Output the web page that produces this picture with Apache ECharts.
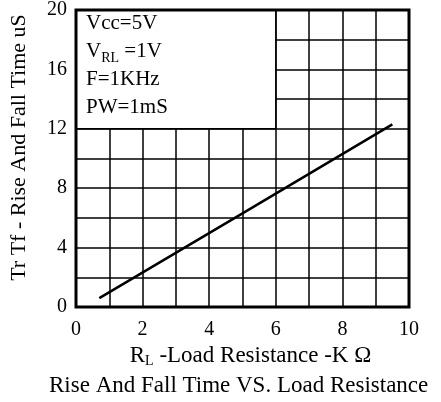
<!DOCTYPE html>
<html>
<head>
<meta charset="utf-8">
<script src="https://cdn.jsdelivr.net/npm/echarts@6/dist/echarts.min.js"></script>
<style>
  html, body { margin: 0; padding: 0; background: #fff; }
  #chart { width: 441px; height: 402px; }
</style>
</head>
<body>
<div id="chart"></div>
<script>
const resistanceK = [0.7, 5.0, 9.5];
const riseFallUs = [0.6, 6.3, 12.3];
const conditionLines = ['{n|Vcc=5V}', '{n|V}{s|RL}{n| =1V}', '{n|F=1KHz}', '{n|PW=1mS}'];
// blank legend block in the upper-left corner of the grid
const legendBox = [[0, 12], [6, 20]];

const FONT = '"Liberation Serif", "DejaVu Serif", serif';

const chart = echarts.init(document.getElementById('chart'), null, { renderer: 'canvas' });

chart.setOption({
  animation: false,
  backgroundColor: '#fff',
  textStyle: { fontFamily: FONT, color: '#000' },
  grid: {
    left: 76, right: 32, top: 10, bottom: 95,
    show: true,
    backgroundColor: 'transparent',
    borderColor: '#000',
    borderWidth: 3,
    z: 10
  },
  title: {
    text: 'Rise And Fall Time VS. Load Resistance',
    left: 44,
    bottom: 0,
    textStyle: { fontFamily: FONT, fontWeight: 'normal', fontSize: 23, color: '#000' }
  },
  xAxis: {
    type: 'value',
    min: 0, max: 10, interval: 1,
    name: '{n|R}{s|L}{n| -Load Resistance -K Ω}',
    nameLocation: 'middle',
    nameGap: 36,
    nameTextStyle: {
      padding: [0, 0, 0, 16],
      rich: {
        n: { fontFamily: FONT, fontSize: 23, color: '#000' },
        s: { fontFamily: FONT, fontSize: 14, color: '#000', verticalAlign: 'bottom', padding: [10, 0, 0, 0] }
      }
    },
    axisLine: { show: false },
    axisTick: { show: false },
    axisLabel: {
      fontFamily: FONT, fontSize: 20, color: '#000', margin: 13,
      formatter: v => (v % 2 === 0 ? String(v) : '')
    },
    splitLine: { lineStyle: { color: '#000', width: 1.5 } }
  },
  yAxis: {
    type: 'value',
    min: 0, max: 20, interval: 2,
    name: 'Tr Tf - Rise And Fall Time uS',
    nameLocation: 'middle',
    nameGap: 46,
    nameTextStyle: { fontFamily: FONT, fontSize: 22, color: '#000', padding: [0, 0, 0, 22] },
    axisLine: { show: false },
    axisTick: { show: false },
    axisLabel: {
      fontFamily: FONT, fontSize: 20, color: '#000', margin: 9,
      formatter: v => (v % 4 === 0 ? String(v) : '')
    },
    splitLine: { lineStyle: { color: '#000', width: 1.5 } }
  },
  graphic: [{
    type: 'text',
    left: 86,
    top: 13,
    z: 100,
    style: {
      text: conditionLines.join('\n'),
      fill: '#000',
      rich: {
        n: { fontFamily: FONT, fontSize: 21, lineHeight: 28 },
        s: { fontFamily: FONT, fontSize: 14, lineHeight: 28, verticalAlign: 'bottom', padding: [9, 0, 0, 0] }
      }
    }
  }],
  series: [{
    type: 'line',
    data: resistanceK.map((x, i) => [x, riseFallUs[i]]),
    symbol: 'none',
    lineStyle: { color: '#000', width: 2.5 },
    markArea: {
      silent: true,
      itemStyle: { color: '#fff', borderColor: '#000', borderWidth: 1.5 },
      data: [[{ coord: legendBox[0] }, { coord: legendBox[1] }]]
    },
    z: 3
  }]
});
</script>
</body>
</html>
